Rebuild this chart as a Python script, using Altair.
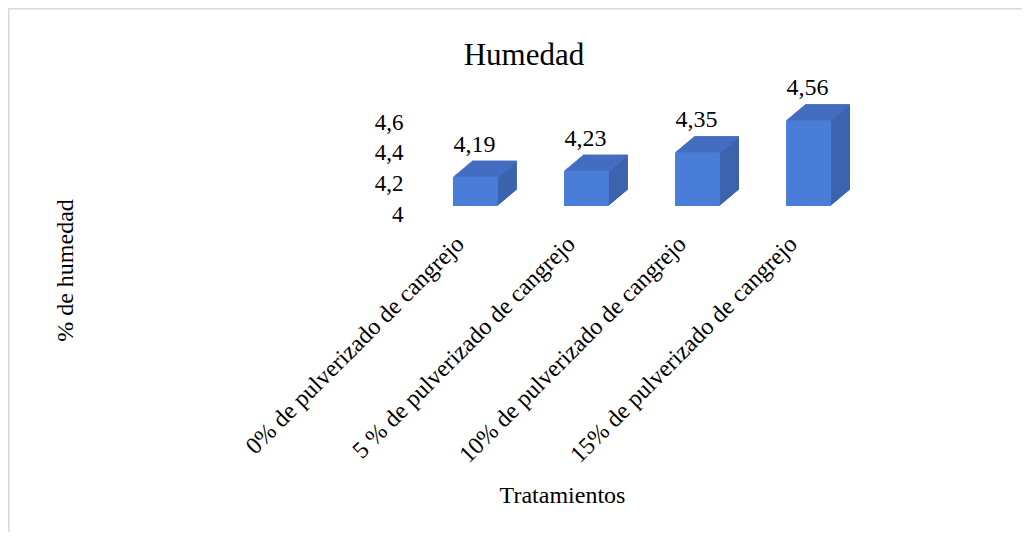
import altair as alt
import pandas as pd

# ---- data ----
categories = [
    "0% de pulverizado de cangrejo",
    "5 % de pulverizado de cangrejo",
    "10% de pulverizado de cangrejo",
    "15% de pulverizado de cangrejo",
]
humedad = [4.19, 4.23, 4.35, 4.56]
y_ticks = [4, 4.2, 4.4, 4.6]

df = pd.DataFrame({"trat": categories, "hum": humedad})

FONT = "Liberation Serif"
FRONT = "#4a7dd8"
TOP = "#4571c4"
SIDE = "#3c64ae"

# 3D depth of the boxes (pixels)
DEPTH_X = 19.0
DEPTH_Y = 16.0
N = 16
ddx = DEPTH_X / N
ddy = DEPTH_Y / N

x_scale = alt.Scale(domain=categories, paddingInner=0.595, paddingOuter=0.387)
y_scale = alt.Scale(domain=[4, 4.6], zero=False, nice=False)

x_axis = alt.Axis(
    title="Tratamientos",
    titleFont=FONT,
    titleFontSize=24,
    titleFontWeight="normal",
    titleColor="#000000",
    titleX=152,
    titleY=289,
    titleAlign="center",
    titleBaseline="middle",
    labelFont=FONT,
    labelFontSize=24,
    labelColor="#000000",
    labelAngle=-45,
    labelAlign="right",
    labelBaseline="middle",
    labelPadding=34,
    labelOffset=-15,
    labelLimit=500,
    labelOverlap=False,
    ticks=False,
    tickSize=0,
    domain=False,
    grid=False,
)

y_axis = alt.Axis(
    values=y_ticks,
    labelExpr="replace(format(datum.value, '.1~f'), '.', ',')",
    title="% de humedad",
    titleFont=FONT,
    titleFontSize=24,
    titleFontWeight="normal",
    titleColor="#000000",
    titleAngle=-90,
    titleX=-345,
    titleY=156,
    titleAlign="center",
    titleBaseline="middle",
    labelFont=FONT,
    labelFontSize=23,
    labelColor="#000000",
    labelPadding=7,
    labelOffset=8,
    labelFlush=False,
    labelOverlap=False,
    ticks=False,
    tickSize=0,
    domain=False,
    grid=False,
)

base = alt.Chart(df)


def xe():
    return alt.X("trat:N", sort=categories, scale=x_scale, axis=x_axis)


def ye():
    return alt.Y("hum:Q", scale=y_scale, axis=y_axis)


layers = []
# extrusion copies, drawn back to front
for k in range(N, 0, -1):
    side = base.mark_bar(
        color=SIDE,
        xOffset=k * ddx,
        x2Offset=k * ddx,
        yOffset=-k * ddy,
        y2Offset=-k * ddy,
    ).encode(x=xe(), y=ye(), y2=alt.datum(4))
    top = base.mark_bar(
        color=TOP,
        xOffset=k * ddx,
        x2Offset=k * ddx,
        yOffset=-k * ddy,
        y2Offset=-(k - 1) * ddy + 0.3,
    ).encode(x=xe(), y=ye(), y2=alt.Y2("hum:Q"))
    layers += [side, top]

front = base.mark_bar(color=FRONT).encode(x=xe(), y=ye(), y2=alt.datum(4))

labels = base.transform_calculate(
    lab="replace(format(datum.hum, '.2f'), '.', ',')"
).mark_text(
    font=FONT, fontSize=24, color="#000000", baseline="alphabetic", align="center", dy=-25, dx=-1
).encode(x=xe(), y=ye(), text="lab:N")

title = alt.Chart(pd.DataFrame({"t": ["Humedad"]})).mark_text(
    font=FONT, fontSize=31, color="#000000", align="center", baseline="alphabetic"
).encode(text="t:N", x=alt.value(114), y=alt.value(-49))

frame_df = pd.DataFrame({"a": [0]})
frame_left = alt.Chart(frame_df).mark_rule(color="#d9d9d9", strokeWidth=1.5).encode(
    x=alt.value(-401.2), y=alt.value(-106), y2=alt.value(418)
)
frame_top = alt.Chart(frame_df).mark_rule(color="#d9d9d9", strokeWidth=1.5).encode(
    x=alt.value(-402), x2=alt.value(612), y=alt.value(-105.2)
)

chart = alt.layer(frame_left, frame_top, *layers, front, labels, title).properties(
    width=464,
    height=92,
    padding={"left": 402, "top": 106, "right": 148, "bottom": 326},
    autosize=alt.AutoSizeParams(type="none"),
    background="#ffffff",
).configure_view(strokeWidth=0)

chart.save("out.html", embed_options={"renderer": "svg", "actions": False})
